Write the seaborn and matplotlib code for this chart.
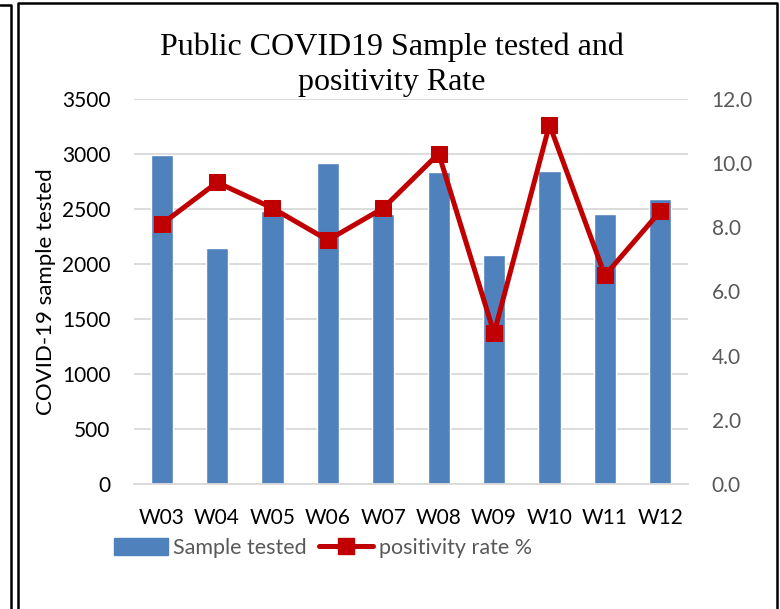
import matplotlib
matplotlib.use("Agg")
import matplotlib.pyplot as plt
import seaborn as sns
import pandas as pd
from matplotlib.lines import Line2D
from matplotlib.patches import Patch

weeks = ["W03", "W04", "W05", "W06", "W07", "W08", "W09", "W10", "W11", "W12"]
samples = [2990, 2150, 2480, 2920, 2455, 2835, 2080, 2845, 2455, 2590]
positivity = [8.1, 9.4, 8.6, 7.6, 8.6, 10.3, 4.7, 11.2, 6.5, 8.5]
left_ticks = [0, 500, 1000, 1500, 2000, 2500, 3000, 3500]
right_ticks = [0, 2, 4, 6, 8, 10, 12]

df = pd.DataFrame({"week": weeks, "samples": samples, "rate": positivity})

sns.set_theme(style="white")
plt.rcParams["font.family"] = ["Lato", "DejaVu Sans"]

BLUE = "#4f81bd"
RED = "#c00000"
GRAY = "#595959"
GRID = "#d9d9d9"

fig = plt.figure(figsize=(7.8, 6.09), dpi=100)
ax = fig.add_axes([0.1718, 0.2053, 0.882 - 0.1718, 0.8374 - 0.2053])

sns.barplot(data=df, x="week", y="samples", color=BLUE, width=0.4,
            saturation=1, ax=ax, zorder=2)
ax.set_ylim(0, 3500)
ax.set_xlim(-0.5, 9.5)
ax.set_yticks(left_ticks)
ax.set_yticklabels([str(t) for t in left_ticks], fontsize=15, color="black")
ax.tick_params(axis="x", labelsize=15, colors="black", length=0, pad=17)
ax.tick_params(axis="y", length=0, pad=17)
ax.grid(axis="y", color=GRID, linewidth=1.3, zorder=0)
ax.set_axisbelow(True)
for s in ["top", "right", "left"]:
    ax.spines[s].set_visible(False)
ax.spines["bottom"].set_color(GRID)
ax.spines["bottom"].set_linewidth(1.3)
ax.set_xlabel("")
ax.set_ylabel("COVID-19 sample tested", fontsize=16, color="black", labelpad=4)

ax2 = ax.twinx()
sns.lineplot(data=df, x="week", y="rate", color=RED, linewidth=3.6,
             marker="s", markersize=12, markeredgecolor=RED, sort=False,
             ax=ax2, zorder=3)
ax2.set_ylim(0, 12)
ax2.set_yticks(right_ticks)
ax2.set_yticklabels([f"{t:.1f}" for t in right_ticks], fontsize=15, color=GRAY)
ax2.tick_params(axis="y", length=0, pad=17)
ax2.set_ylabel("")
for s in ["top", "right", "left", "bottom"]:
    ax2.spines[s].set_visible(False)

fig.text(0.502, 0.894, "Public COVID19 Sample tested and\npositivity Rate",
         ha="center", va="center", fontsize=23, family="Liberation Serif",
         color="black", linespacing=1.3)

handles = [Patch(facecolor=BLUE, edgecolor=BLUE),
           Line2D([0], [0], color=RED, linewidth=3.6, marker="s",
                  markersize=11, markeredgecolor=RED)]
fig.legend(handles, ["Sample tested", "positivity rate %"],
           loc="center left", bbox_to_anchor=(0.121, 0.1),
           ncol=2, frameon=False, fontsize=15.5, labelcolor=GRAY,
           handlelength=2.5, handleheight=0.8, columnspacing=0.6,
           handletextpad=0.25)

# frames
fig.add_artist(Line2D([0.023, 0.023, 0.996, 0.996], [0.0, 0.995, 0.995, 0.0],
                      transform=fig.transFigure, color="black", linewidth=1.8))
fig.add_artist(Line2D([0.0, 0.014, 0.014], [0.992, 0.992, 0.0],
                      transform=fig.transFigure, color="black", linewidth=1.8))

fig.savefig("out.png", dpi=100)
